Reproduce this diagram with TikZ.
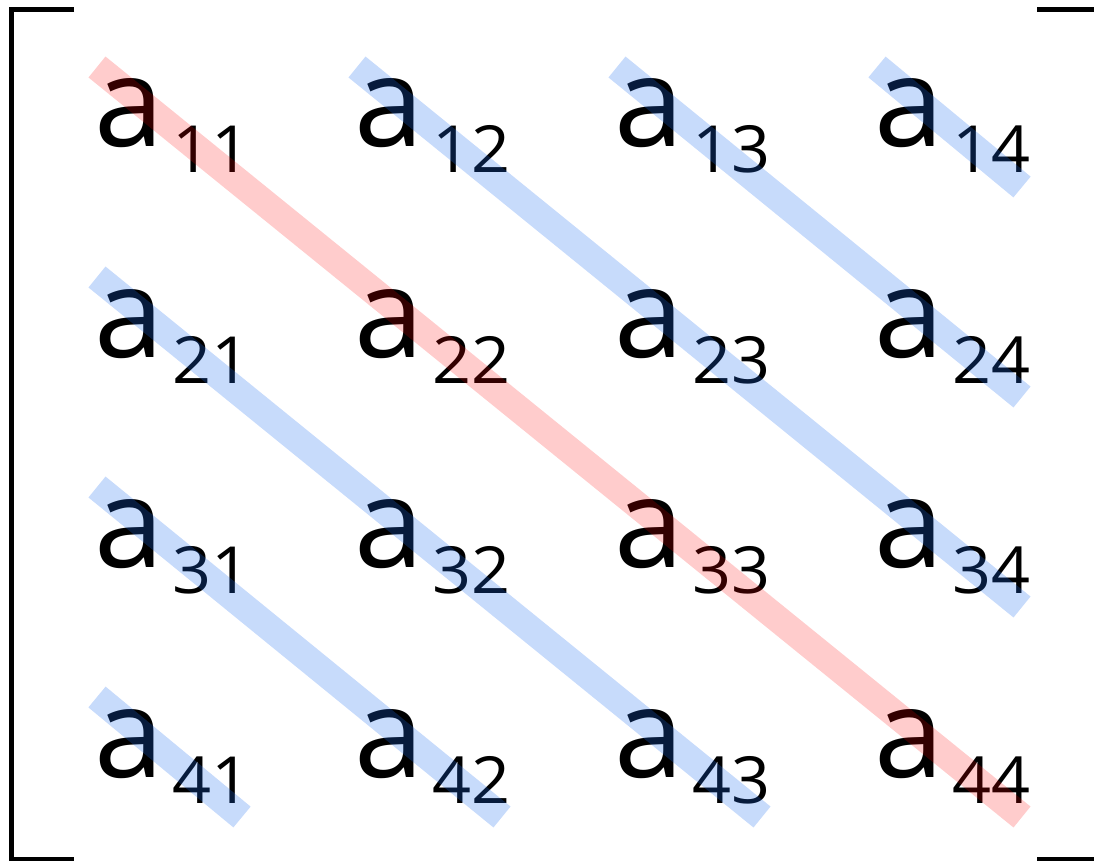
\documentclass[tikz,border=0pt]{standalone}
\usepackage{fontspec}
\setmainfont{Open Sans}
\definecolor{stripered}{RGB}{255,0,0}
\definecolor{stripeblue}{RGB}{30,110,240}
\begin{document}
\begin{tikzpicture}[x=1pt,y=-1pt,
  entry/.style={anchor=base west, inner sep=0pt, outer sep=0pt, text=black},
  bracket/.style={line width=5pt, line cap=butt, line join=miter},
  redstripe/.style={draw=stripered, draw opacity=0.2, line width=27pt, line cap=butt},
  bluestripe/.style={draw=stripeblue, draw opacity=0.25, line width=27pt, line cap=butt}]
\useasboundingbox (0,0) rectangle (1094,861);
% brackets
\draw[bracket] (74,9.5) -- (11,9.5) -- (11,859) -- (74,859);
\draw[bracket] (1037,9.5) -- (1098,9.5) -- (1098,859) -- (1037,859);
% entries
\foreach \i in {1,...,4}{
  \foreach \j in {1,...,4}{
    \node[entry] (e\i\j) at ({94+260*(\j-1)},{147+210*(\i-1)})
      {\fontsize{125}{125}\selectfont a\hspace{9pt}\raisebox{-26pt}{\scalebox{1.05}[1]{\fontsize{65}{65}\selectfont \i\j}}};
    \coordinate (c\i\j) at ({97+260*(\j-1)},{67+210*(\i-1)});
    \coordinate (d\i\j) at ({97+145+260*(\j-1)},{67+120+210*(\i-1)});
  }
}
% stripes
\draw[redstripe] (c11) -- (d44);
\draw[bluestripe] (c12) -- (d34);
\draw[bluestripe] (c13) -- (d24);
\draw[bluestripe] (c14) -- (d14);
\draw[bluestripe] (c21) -- (d43);
\draw[bluestripe] (c31) -- (d42);
\draw[bluestripe] (c41) -- (d41);
\end{tikzpicture}
\end{document}
